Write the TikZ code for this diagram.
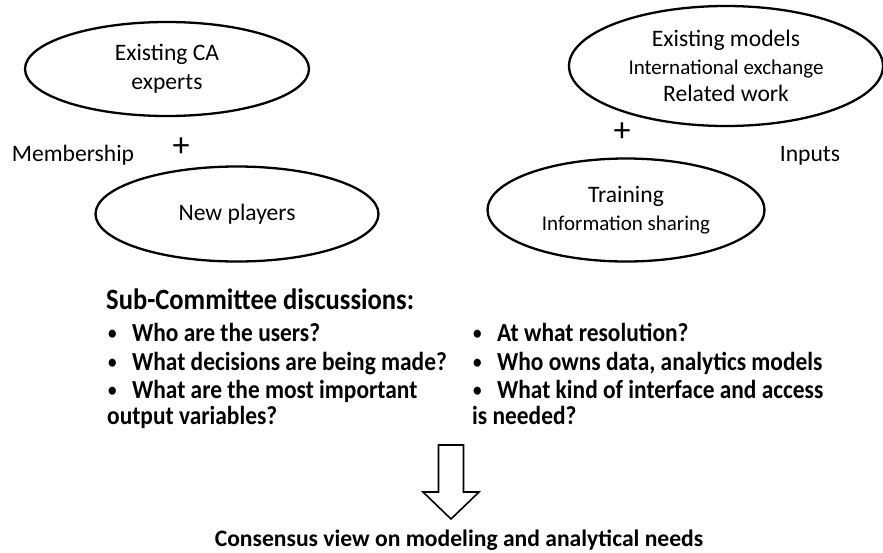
\documentclass[tikz,border=0pt]{standalone}
\usepackage{fontspec}
\setmainfont{Carlito}
\newfontfamily\condfont[FakeStretch=0.9]{Carlito}
\usetikzlibrary{shapes.geometric}

\tikzset{
  oval/.style={ellipse,draw,line width=2.3pt,inner sep=0pt,align=center},
  lbl/.style={inner sep=0pt,font=\fontsize{23.6}{29}\selectfont},
  plus/.style={inner sep=0pt,font=\fontsize{34}{34}\selectfont},
  item/.style={anchor=west,inner sep=0pt,text height=12pt,text depth=4pt,
    font=\condfont\bfseries\fontsize{26}{29}\selectfont},
}
\newcommand{\bul}{\makebox[25pt][l]{\hspace{1pt}\raisebox{1.5pt}{\fontsize{19}{19}\selectfont\textbullet}}}

\begin{document}
\begin{tikzpicture}[x=1pt,y=-1pt]
    \useasboundingbox (0,0) rectangle (883,552);

    % membership side
    \node[oval,minimum width=284,minimum height=94,font=\fontsize{23.6}{29}\selectfont] (ca) at (167,69) {Existing CA\\experts};
    \node[oval,minimum width=283,minimum height=95,font=\fontsize{23.6}{29}\selectfont] (new) at (237,214) {New players};
    \node[plus] (plusa) at (181,147) {+};
    \node[lbl] (memb) at (73,155) {Membership};

    % inputs side
    \node[oval,minimum width=314,minimum height=120,font=\fontsize{23.6}{27.5}\selectfont] (models) at (726,66)
        {Existing models\\{\fontsize{21}{27.5}\selectfont International exchange}\\Related work};
    \node[oval,minimum width=277,minimum height=103,font=\fontsize{23.6}{28}\selectfont] (train) at (626,210)
        {Training\\{\fontsize{21}{28}\selectfont Information sharing}};
    \node[plus] (plusb) at (622,132) {+};
    \node[lbl] (inp) at (810,156) {Inputs};

    % discussions
    \node[item,font=\condfont\bfseries\fontsize{29.5}{30}\selectfont] (title) at (106,305) {Sub-Committee discussions:};
    \node[item] (qa) at (107,337) {\bul Who are the users?};
    \node[item] (qb) at (107,366) {\bul What decisions are being made?};
    \node[item] (qc) at (107,394) {\bul What are the most important};
    \node[item] (qc2) at (107,420) {output variables?};
    \node[item] (qd) at (472,337) {\bul At what resolution?};
    \node[item] (qe) at (472,366) {\bul Who owns data, analytics models};
    \node[item] (qf) at (472,394) {\bul What kind of interface and access};
    \node[item] (qf2) at (472,420) {is needed?};

    \draw[line width=1.6pt,line join=miter] (438.5,445) -- (463.5,445) -- (463.5,492) -- (479,492)
        -- (451,519) -- (423,492) -- (438.5,492) -- cycle;

    \node[inner sep=0pt,font=\bfseries\fontsize{23.6}{29}\selectfont] (cons) at (459,540)
        {Consensus view on modeling and analytical needs};
\end{tikzpicture}
\end{document}
